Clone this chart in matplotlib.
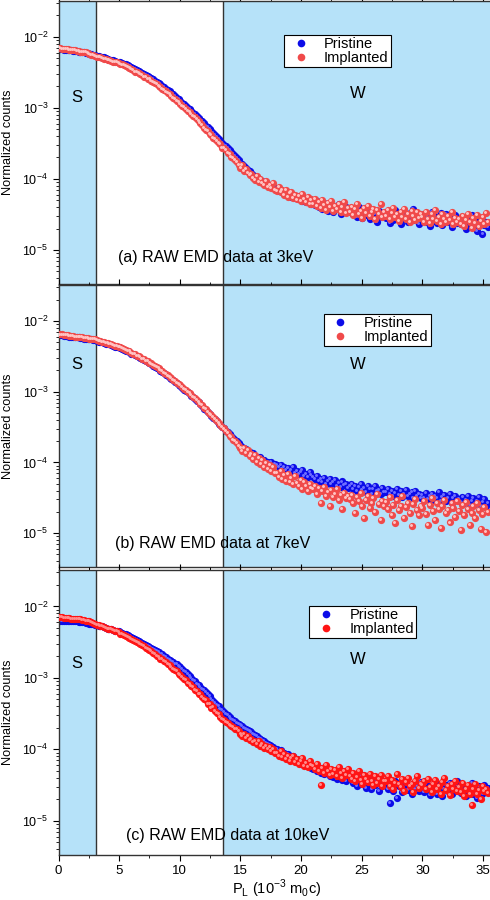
import numpy as np
import matplotlib
matplotlib.use('Agg')
import matplotlib.pyplot as plt
from matplotlib.transforms import offset_copy
from matplotlib.lines import Line2D
from matplotlib.ticker import MultipleLocator

plt.rcParams['font.family'] = ['Liberation Sans', 'DejaVu Sans']

# momentum channel width (10^-3 m0c); every list starts at P_L = 0
step = 0.15

# log10(normalized counts), 20 channels (3 units) per row
log_pri_3kev = [
    -2.17, -2.17, -2.17, -2.18, -2.18, -2.18, -2.19, -2.19, -2.20, -2.20, -2.20, -2.21, -2.21, -2.22, -2.22, -2.23, -2.23, -2.24, -2.24, -2.25,
    -2.26, -2.27, -2.27, -2.28, -2.29, -2.29, -2.30, -2.31, -2.32, -2.32, -2.33, -2.34, -2.35, -2.36, -2.36, -2.37, -2.38, -2.39, -2.40, -2.41,
    -2.43, -2.44, -2.45, -2.47, -2.48, -2.49, -2.51, -2.52, -2.54, -2.55, -2.57, -2.58, -2.60, -2.62, -2.63, -2.65, -2.67, -2.69, -2.71, -2.73,
    -2.75, -2.77, -2.79, -2.81, -2.84, -2.86, -2.88, -2.90, -2.93, -2.95, -2.97, -3.00, -3.02, -3.04, -3.07, -3.09, -3.12, -3.14, -3.17, -3.19,
    -3.22, -3.25, -3.27, -3.30, -3.33, -3.35, -3.38, -3.41, -3.44, -3.46, -3.49, -3.52, -3.54, -3.57, -3.60, -3.62, -3.65, -3.68, -3.70, -3.73,
    -3.77, -3.79, -3.82, -3.84, -3.87, -3.89, -3.92, -3.94, -3.96, -3.98, -4.00, -4.01, -4.03, -4.05, -4.06, -4.08, -4.09, -4.11, -4.12, -4.13,
    -4.14, -4.17, -4.15, -4.19, -4.21, -4.18, -4.23, -4.20, -4.25, -4.22, -4.27, -4.24, -4.29, -4.26, -4.31, -4.27, -4.33, -4.30, -4.28, -4.35,
    -4.33, -4.37, -4.31, -4.40, -4.36, -4.42, -4.34, -4.39, -4.45, -4.37, -4.41, -4.47, -4.38, -4.43, -4.36, -4.49, -4.42, -4.46, -4.40, -4.44,
    -4.46, -4.42, -4.50, -4.45, -4.53, -4.40, -4.48, -4.55, -4.43, -4.51, -4.47, -4.57, -4.44, -4.52, -4.49, -4.60, -4.45, -4.54, -4.48, -4.51,
    -4.55, -4.47, -4.62, -4.50, -4.58, -4.44, -4.53, -4.49, -4.63, -4.46, -4.56, -4.52, -4.60, -4.48, -4.55, -4.43, -4.58, -4.51, -4.64, -4.53,
    -4.57, -4.49, -4.61, -4.54, -4.66, -4.46, -4.59, -4.52, -4.62, -4.55, -4.48, -4.65, -4.57, -4.50, -4.60, -4.53, -4.68, -4.56, -4.51, -4.62,
    -4.58, -4.64, -4.53, -4.61, -4.70, -4.56, -4.63, -4.51, -4.66, -4.59, -4.74, -4.62, -4.55, -4.78, -4.65, -4.60, -4.68]
log_imp_3kev = [
    -2.16, -2.16, -2.17, -2.17, -2.17, -2.17, -2.18, -2.18, -2.19, -2.19, -2.20, -2.20, -2.21, -2.21, -2.22, -2.22, -2.23, -2.24, -2.25, -2.25,
    -2.27, -2.28, -2.28, -2.29, -2.30, -2.31, -2.31, -2.32, -2.33, -2.34, -2.35, -2.35, -2.36, -2.37, -2.38, -2.39, -2.40, -2.41, -2.42, -2.44,
    -2.46, -2.47, -2.49, -2.50, -2.51, -2.53, -2.54, -2.56, -2.57, -2.59, -2.60, -2.62, -2.64, -2.65, -2.67, -2.69, -2.71, -2.73, -2.75, -2.77,
    -2.79, -2.81, -2.83, -2.86, -2.88, -2.90, -2.92, -2.95, -2.97, -2.99, -3.02, -3.04, -3.06, -3.09, -3.11, -3.13, -3.16, -3.19, -3.21, -3.24,
    -3.28, -3.31, -3.33, -3.37, -3.38, -3.42, -3.44, -3.46, -3.50, -3.51, -3.56, -3.57, -3.60, -3.63, -3.65, -3.69, -3.70, -3.74, -3.76, -3.80,
    -3.84, -3.81, -3.89, -3.86, -3.91, -3.95, -3.93, -3.99, -4.01, -3.96, -4.04, -4.00, -4.06, -4.09, -4.03, -4.11, -4.08, -4.13, -4.06, -4.15,
    -4.17, -4.12, -4.19, -4.15, -4.22, -4.16, -4.25, -4.20, -4.18, -4.27, -4.22, -4.29, -4.24, -4.31, -4.21, -4.28, -4.33, -4.26, -4.35, -4.29,
    -4.36, -4.28, -4.38, -4.33, -4.41, -4.30, -4.37, -4.44, -4.34, -4.40, -4.31, -4.45, -4.38, -4.42, -4.35, -4.47, -4.39, -4.33, -4.48, -4.41,
    -4.47, -4.39, -4.51, -4.43, -4.36, -4.49, -4.45, -4.55, -4.41, -4.48, -4.38, -4.52, -4.46, -4.42, -4.56, -4.44, -4.50, -4.35, -4.53, -4.47,
    -4.52, -4.44, -4.57, -4.48, -4.41, -4.54, -4.50, -4.59, -4.46, -4.53, -4.43, -4.56, -4.49, -4.61, -4.45, -4.52, -4.58, -4.47, -4.55, -4.50,
    -4.53, -4.60, -4.47, -4.56, -4.62, -4.50, -4.57, -4.44, -4.59, -4.53, -4.64, -4.49, -4.56, -4.61, -4.52, -4.58, -4.47, -4.63, -4.55, -4.60,
    -4.57, -4.63, -4.52, -4.66, -4.58, -4.49, -4.61, -4.69, -4.55, -4.62, -4.51, -4.67, -4.59, -4.54, -4.64, -4.48, -4.60]

log_pri_7kev = [
    -2.20, -2.20, -2.20, -2.21, -2.21, -2.21, -2.22, -2.22, -2.22, -2.23, -2.23, -2.23, -2.24, -2.24, -2.25, -2.25, -2.25, -2.26, -2.26, -2.27,
    -2.27, -2.28, -2.29, -2.29, -2.30, -2.31, -2.32, -2.32, -2.33, -2.34, -2.35, -2.36, -2.36, -2.37, -2.38, -2.39, -2.41, -2.42, -2.43, -2.44,
    -2.46, -2.47, -2.48, -2.50, -2.51, -2.52, -2.54, -2.55, -2.57, -2.58, -2.60, -2.61, -2.63, -2.65, -2.66, -2.68, -2.70, -2.72, -2.74, -2.76,
    -2.78, -2.80, -2.82, -2.84, -2.86, -2.88, -2.90, -2.92, -2.94, -2.97, -2.99, -3.01, -3.03, -3.06, -3.08, -3.10, -3.13, -3.15, -3.18, -3.20,
    -3.24, -3.26, -3.29, -3.32, -3.34, -3.37, -3.39, -3.42, -3.45, -3.47, -3.50, -3.52, -3.55, -3.57, -3.60, -3.63, -3.65, -3.68, -3.70, -3.73,
    -3.76, -3.78, -3.80, -3.81, -3.84, -3.85, -3.88, -3.87, -3.91, -3.92, -3.94, -3.93, -3.97, -3.96, -3.99, -4.00, -4.01, -3.99, -4.03, -4.02,
    -4.04, -4.07, -4.03, -4.09, -4.06, -4.11, -4.08, -4.13, -4.10, -4.07, -4.15, -4.12, -4.17, -4.14, -4.11, -4.19, -4.16, -4.21, -4.14, -4.18,
    -4.21, -4.24, -4.19, -4.26, -4.23, -4.28, -4.22, -4.30, -4.26, -4.24, -4.31, -4.28, -4.25, -4.33, -4.29, -4.35, -4.27, -4.32, -4.30, -4.36,
    -4.34, -4.30, -4.37, -4.33, -4.40, -4.35, -4.31, -4.39, -4.36, -4.42, -4.34, -4.38, -4.44, -4.37, -4.33, -4.41, -4.39, -4.45, -4.36, -4.42,
    -4.42, -4.38, -4.45, -4.40, -4.47, -4.43, -4.37, -4.46, -4.41, -4.49, -4.44, -4.39, -4.48, -4.45, -4.42, -4.50, -4.41, -4.47, -4.44, -4.51,
    -4.46, -4.50, -4.43, -4.52, -4.48, -4.44, -4.53, -4.47, -4.50, -4.42, -4.55, -4.49, -4.46, -4.54, -4.51, -4.45, -4.57, -4.50, -4.48, -4.53,
    -4.52, -4.56, -4.49, -4.58, -4.53, -4.47, -4.60, -4.55, -4.51, -4.59, -4.54, -4.49, -4.62, -4.56, -4.52, -4.61, -4.57]
log_imp_7kev = [
    -2.19, -2.19, -2.19, -2.20, -2.20, -2.20, -2.21, -2.21, -2.21, -2.22, -2.22, -2.22, -2.23, -2.23, -2.24, -2.24, -2.24, -2.25, -2.25, -2.26,
    -2.26, -2.27, -2.28, -2.28, -2.29, -2.30, -2.31, -2.31, -2.32, -2.33, -2.34, -2.35, -2.35, -2.36, -2.37, -2.38, -2.40, -2.41, -2.42, -2.43,
    -2.45, -2.46, -2.47, -2.49, -2.50, -2.51, -2.53, -2.54, -2.56, -2.57, -2.59, -2.60, -2.62, -2.64, -2.65, -2.67, -2.69, -2.71, -2.73, -2.75,
    -2.77, -2.79, -2.81, -2.83, -2.85, -2.87, -2.89, -2.91, -2.93, -2.96, -2.98, -3.00, -3.02, -3.05, -3.07, -3.09, -3.12, -3.14, -3.17, -3.19,
    -3.23, -3.25, -3.28, -3.31, -3.33, -3.36, -3.38, -3.41, -3.44, -3.47, -3.50, -3.52, -3.56, -3.58, -3.62, -3.64, -3.68, -3.70, -3.73, -3.77,
    -3.79, -3.84, -3.80, -3.87, -3.83, -3.91, -3.88, -3.95, -3.90, -3.99, -3.94, -4.02, -3.97, -4.06, -4.01, -4.09, -4.04, -4.12, -4.07, -4.15,
    -4.15, -4.20, -4.12, -4.23, -4.18, -4.26, -4.16, -4.28, -4.22, -4.31, -4.19, -4.29, -4.34, -4.25, -4.37, -4.28, -4.33, -4.40, -4.30, -4.36,
    -4.38, -4.33, -4.44, -4.36, -4.58, -4.41, -4.35, -4.47, -4.42, -4.62, -4.39, -4.49, -4.44, -4.37, -4.53, -4.46, -4.66, -4.43, -4.51, -4.48,
    -4.52, -4.46, -4.58, -4.72, -4.49, -4.55, -4.43, -4.61, -4.78, -4.53, -4.47, -4.64, -4.57, -4.50, -4.70, -4.45, -4.59, -4.82, -4.54, -4.62,
    -4.56, -4.66, -4.49, -4.74, -4.60, -4.86, -4.53, -4.68, -4.62, -4.47, -4.79, -4.63, -4.57, -4.71, -4.90, -4.59, -4.52, -4.67, -4.75, -4.61,
    -4.64, -4.55, -4.73, -4.88, -4.60, -4.50, -4.69, -4.81, -4.58, -4.66, -4.93, -4.62, -4.53, -4.72, -4.67, -4.85, -4.57, -4.64, -4.77, -4.55,
    -4.69, -4.95, -4.60, -4.74, -4.56, -4.66, -4.88, -4.71, -4.62, -4.79, -4.58, -4.68, -4.94, -4.73, -4.63, -4.99, -4.70]

log_pri_10kev = [
    -2.20, -2.20, -2.20, -2.20, -2.20, -2.20, -2.21, -2.21, -2.21, -2.21, -2.21, -2.22, -2.22, -2.22, -2.22, -2.23, -2.23, -2.24, -2.24, -2.25,
    -2.26, -2.26, -2.27, -2.28, -2.28, -2.29, -2.30, -2.31, -2.31, -2.32, -2.33, -2.34, -2.34, -2.35, -2.36, -2.37, -2.38, -2.39, -2.40, -2.42,
    -2.43, -2.44, -2.46, -2.47, -2.48, -2.50, -2.51, -2.53, -2.54, -2.55, -2.57, -2.58, -2.60, -2.61, -2.62, -2.64, -2.66, -2.67, -2.69, -2.71,
    -2.73, -2.75, -2.76, -2.78, -2.80, -2.81, -2.83, -2.85, -2.88, -2.90, -2.92, -2.95, -2.97, -3.00, -3.03, -3.05, -3.08, -3.10, -3.13, -3.15,
    -3.17, -3.20, -3.23, -3.26, -3.29, -3.32, -3.35, -3.38, -3.40, -3.43, -3.45, -3.48, -3.50, -3.52, -3.55, -3.57, -3.59, -3.61, -3.63, -3.65,
    -3.66, -3.67, -3.70, -3.71, -3.73, -3.75, -3.76, -3.78, -3.80, -3.81, -3.84, -3.85, -3.87, -3.89, -3.91, -3.92, -3.94, -3.96, -3.97, -3.99,
    -4.00, -4.03, -4.01, -4.06, -4.05, -4.09, -4.07, -4.11, -4.13, -4.10, -4.16, -4.14, -4.18, -4.20, -4.17, -4.22, -4.19, -4.24, -4.22, -4.26,
    -4.27, -4.23, -4.30, -4.28, -4.33, -4.26, -4.35, -4.31, -4.29, -4.37, -4.32, -4.39, -4.34, -4.41, -4.36, -4.31, -4.43, -4.38, -4.45, -4.36,
    -4.42, -4.38, -4.47, -4.40, -4.51, -4.44, -4.36, -4.49, -4.45, -4.54, -4.41, -4.48, -4.56, -4.43, -4.50, -4.46, -4.59, -4.44, -4.52, -4.47,
    -4.49, -4.55, -4.75, -4.51, -4.58, -4.44, -4.68, -4.52, -4.47, -4.60, -4.54, -4.43, -4.57, -4.50, -4.62, -4.48, -4.55, -4.51, -4.59, -4.46,
    -4.53, -4.60, -4.48, -4.56, -4.64, -4.51, -4.57, -4.45, -4.62, -4.54, -4.49, -4.66, -4.55, -4.50, -4.59, -4.47, -4.63, -4.53, -4.58, -4.44,
    -4.56, -4.61, -4.49, -4.58, -4.66, -4.52, -4.59, -4.47, -4.63, -4.55, -4.68, -4.51, -4.57, -4.62, -4.50, -4.60, -4.54]
log_imp_10kev = [
    -2.15, -2.15, -2.15, -2.16, -2.16, -2.16, -2.16, -2.17, -2.17, -2.17, -2.18, -2.18, -2.18, -2.19, -2.19, -2.20, -2.21, -2.21, -2.22, -2.23,
    -2.25, -2.26, -2.26, -2.27, -2.28, -2.29, -2.30, -2.31, -2.32, -2.32, -2.33, -2.34, -2.35, -2.36, -2.38, -2.39, -2.40, -2.41, -2.43, -2.44,
    -2.45, -2.47, -2.48, -2.50, -2.51, -2.53, -2.54, -2.56, -2.58, -2.59, -2.61, -2.63, -2.65, -2.67, -2.69, -2.71, -2.73, -2.74, -2.76, -2.78,
    -2.80, -2.82, -2.85, -2.87, -2.89, -2.91, -2.94, -2.96, -2.99, -3.01, -3.03, -3.07, -3.08, -3.12, -3.13, -3.17, -3.18, -3.23, -3.22, -3.27,
    -3.30, -3.31, -3.36, -3.37, -3.42, -3.41, -3.47, -3.49, -3.51, -3.55, -3.57, -3.59, -3.62, -3.63, -3.66, -3.67, -3.69, -3.71, -3.72, -3.75,
    -3.78, -3.81, -3.79, -3.84, -3.82, -3.87, -3.85, -3.90, -3.88, -3.92, -3.89, -3.95, -3.93, -3.98, -3.95, -4.00, -3.97, -4.03, -4.00, -4.05,
    -4.05, -4.09, -4.03, -4.11, -4.07, -4.14, -4.09, -4.16, -4.12, -4.10, -4.18, -4.14, -4.21, -4.16, -4.12, -4.23, -4.19, -4.25, -4.17, -4.22,
    -4.24, -4.28, -4.21, -4.31, -4.50, -4.26, -4.33, -4.22, -4.30, -4.36, -4.27, -4.34, -4.29, -4.38, -4.25, -4.33, -4.40, -4.31, -4.36, -4.28,
    -4.37, -4.42, -4.33, -4.45, -4.39, -4.31, -4.43, -4.48, -4.36, -4.41, -4.46, -4.34, -4.44, -4.50, -4.38, -4.47, -4.42, -4.36, -4.52, -4.44,
    -4.45, -4.38, -4.51, -4.43, -4.56, -4.47, -4.35, -4.49, -4.53, -4.42, -4.58, -4.46, -4.40, -4.52, -4.48, -4.60, -4.44, -4.38, -4.54, -4.49,
    -4.50, -4.45, -4.56, -4.41, -4.53, -4.60, -4.48, -4.43, -4.55, -4.51, -4.62, -4.46, -4.40, -4.57, -4.52, -4.64, -4.49, -4.55, -4.44, -4.58,
    -4.53, -4.60, -4.47, -4.66, -4.55, -4.50, -4.62, -4.78, -4.56, -4.48, -4.63, -4.57, -4.70, -4.52, -4.59, -4.55, -4.61]

panel_labels = ['(a) RAW EMD data at 3keV', '(b) RAW EMD data at 7keV',
                '(c) RAW EMD data at 10keV']
pristine = [log_pri_3kev, log_pri_7kev, log_pri_10kev]
implanted = [log_imp_3kev, log_imp_7kev, log_imp_10kev]

s_edge = 3.1
w_edge = 13.55
shade = '#b6e2f9'
blue, blue_hi = '#0c0ce8', '#7070ff'
reds = [('#f04a4a', '#ffc4c4'), ('#f04a4a', '#ffc4c4'), ('#ff1414', '#ff8c8c')]

rows = [(0.6844, 0.3150), (0.3700, 0.3133), (0.0500, 0.3167)]
legend_xy = [(0.517, 0.88), (0.608, 0.897), (0.575, 0.874)]
label_xy = [(0.137, 0.095), (0.130, 0.085), (0.155, 0.070)]
sw_y = [(1.4e-3, 1.6e-3), (2.4e-3, 2.4e-3), (1.6e-3, 1.8e-3)]

fig = plt.figure(figsize=(4.9, 9), dpi=100)

for k in range(3):
    ax = fig.add_axes([0.1194, rows[k][0], 0.8898, rows[k][1]])
    ax.set_yscale('log')
    ax.set_xlim(0, 35.94)
    ax.set_ylim(10 ** -5.48, 10 ** -1.49)
    ax.axvspan(0, s_edge, color=shade, lw=0, zorder=0)
    ax.axvspan(w_edge, 40, color=shade, lw=0, zorder=0)
    ax.axvline(s_edge, color='#333333', lw=1, zorder=1)
    ax.axvline(w_edge, color='#333333', lw=1, zorder=1)

    yp = 10.0 ** np.array(pristine[k])
    yi = 10.0 ** np.array(implanted[k])
    xp = np.arange(len(yp)) * step
    xi = np.arange(len(yi)) * step
    hi = offset_copy(ax.transData, fig=fig, x=-0.7, y=0.7, units='points')
    red, red_hi = reds[k]
    ax.scatter(xp, yp, s=27, color=blue, lw=0, zorder=2)
    ax.scatter(xp, yp, s=4.5, color=blue_hi, lw=0, zorder=2, transform=hi)
    ax.scatter(xi, yi, s=27, color=red, lw=0, zorder=3)
    ax.scatter(xi, yi, s=4.5, color=red_hi, lw=0, zorder=3, transform=hi)

    ax.text(1.5, sw_y[k][0], 'S', fontsize=12, ha='center', va='center')
    ax.text(24.7, sw_y[k][1], 'W', fontsize=12, ha='center', va='center')
    ax.text(label_xy[k][0], label_xy[k][1], panel_labels[k], fontsize=11.5,
            transform=ax.transAxes, ha='left', va='center')

    handles = [Line2D([], [], ls='none', marker='o', ms=5.5, mfc=blue, mec='none'),
               Line2D([], [], ls='none', marker='o', ms=5.5, mfc=red, mec='none')]
    leg = ax.legend(handles, ['Pristine', 'Implanted'], loc='upper left',
                    bbox_to_anchor=legend_xy[k], fontsize=10.5, frameon=True,
                    fancybox=False, framealpha=1, edgecolor='black',
                    borderpad=0.15, labelspacing=0.0, handlelength=2.0,
                    handletextpad=0.6, borderaxespad=0)
    leg.get_frame().set_linewidth(0.8)
    leg.set_zorder(5)

    ax.xaxis.set_major_locator(MultipleLocator(5))
    ax.xaxis.set_minor_locator(MultipleLocator(2.5))
    ax.tick_params(axis='x', which='major', direction='out', length=4,
                   top=True, labelsize=9.5)
    ax.tick_params(axis='x', which='minor', direction='out', length=2.5, top=True)
    ax.tick_params(axis='y', which='major', direction='out', length=4, labelsize=9)
    ax.tick_params(axis='y', which='minor', direction='out', length=2)
    if k < 2:
        ax.tick_params(axis='x', labelbottom=False)
    for sp in ax.spines.values():
        sp.set_color('#333333')
        sp.set_linewidth(1)
    ax.set_ylabel('Normalized counts', fontsize=9.2)
    ax.yaxis.set_label_coords(-0.102, 0.5)
    if k == 2:
        ax.set_xlabel(r'P$_\mathregular{L}$ (10$^\mathregular{-3}$ m$_\mathregular{0}$c)',
                      fontsize=10.5, labelpad=0.5)

fig.savefig('out.png', dpi=100)
